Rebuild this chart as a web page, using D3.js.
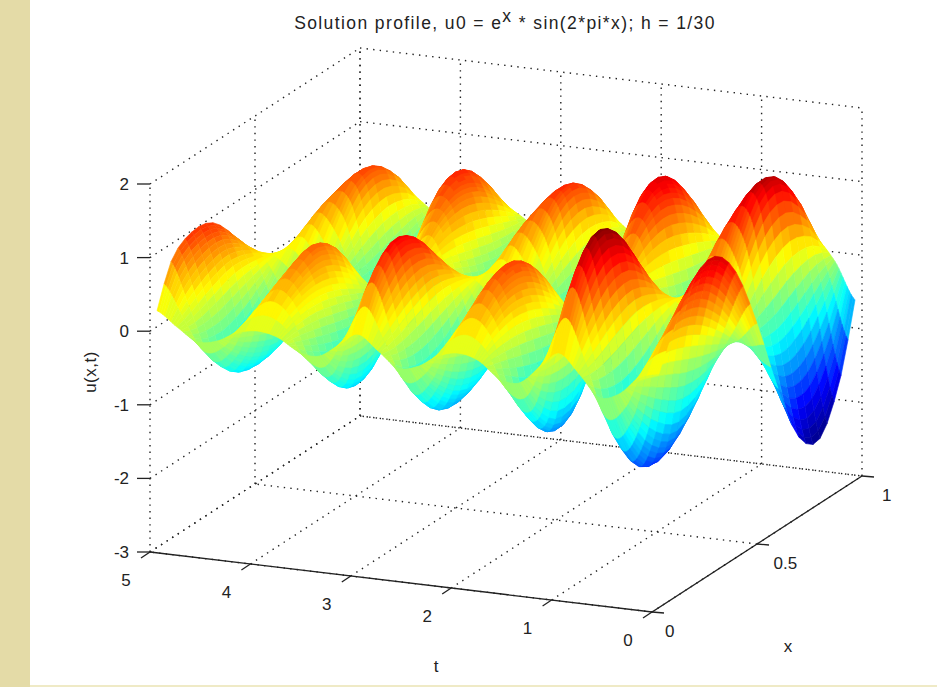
<!DOCTYPE html>
<html>
<head>
<meta charset="utf-8">
<script src="https://d3js.org/d3.v7.min.js"></script>
<style>
  html, body { margin: 0; padding: 0; background: #fff; }
  text { font-family: "Liberation Sans", Arial, sans-serif; font-size: 17px; fill: #222; }
</style>
</head>
<body>
<div id="chart-area"></div>
<script>
const WIDTH = 937
const HEIGHT = 687

const titleParts = ["Solution profile, u0 = e", "x", " * sin(2*pi*x); h = 1/30"]
const tTicks = [0, 1, 2, 3, 4, 5]
const xTicks = [0, 0.5, 1]
const zTicks = [-3, -2, -1, 0, 1, 2]

// values, one row per t, one column per x
const xKnots = [0, 0.1, 0.2, 0.3, 0.4, 0.5, 0.6, 0.7, 0.8, 0.9, 1]
const tKnots = [0, 0.2, 0.4, 0.6, 0.8, 1, 1.2, 1.4, 1.6, 1.8, 2, 2.2, 2.4, 2.6, 2.8, 3, 3.2, 3.4, 3.6, 3.8, 4, 4.2, 4.4, 4.6, 4.8, 5]
const uValues = [
  [0, 0.65, 1.16, 1.28, 0.88, 0, -1.07, -1.92, -2.12, -1.45, -0.2],
  [0, 0.29, 0.41, 0.32, 0.07, -0.27, -0.55, -0.66, -0.50, -0.22, 0],
  [0, -0.62, -1.08, -1.25, -0.95, -0.30, 0.53, 1.17, 1.27, 0.81, 0],
  [0, -0.87, -1.38, -1.28, -0.58, 0.27, 0.84, 1.07, 0.96, 0.56, 0],
  [0, 0.20, 0.43, 0.55, 0.45, 0.20, -0.10, -0.31, -0.37, -0.25, 0],
  [0, 1.06, 1.58, 1.45, 0.83, 0, -0.73, -1.11, -1.05, -0.62, 0],
  [0, 0.20, 0.41, 0.52, 0.42, 0.17, -0.11, -0.31, -0.36, -0.24, 0],
  [0, -0.66, -1.05, -1.00, -0.48, 0.22, 0.77, 1.01, 0.91, 0.54, 0],
  [0, -0.52, -0.90, -0.98, -0.75, -0.22, 0.48, 1.02, 1.09, 0.69, 0],
  [0, 0.22, 0.32, 0.26, 0.08, -0.17, -0.39, -0.48, -0.37, -0.17, 0],
  [0, 0.48, 0.83, 0.89, 0.59, 0, -0.70, -1.24, -1.35, -0.92, 0],
  [0, 0.20, 0.28, 0.22, 0.05, -0.17, -0.37, -0.44, -0.33, -0.15, 0],
  [0, -0.43, -0.75, -0.85, -0.66, -0.22, 0.36, 0.82, 0.89, 0.57, 0],
  [0, -0.62, -0.97, -0.89, -0.39, 0.22, 0.61, 0.75, 0.66, 0.38, 0],
  [0, 0.13, 0.30, 0.41, 0.35, 0.17, -0.03, -0.19, -0.25, -0.18, 0],
  [0, 0.80, 1.17, 1.05, 0.59, 0, -0.48, -0.71, -0.64, -0.36, 0],
  [0, 0.13, 0.31, 0.41, 0.35, 0.17, -0.03, -0.19, -0.25, -0.18, 0],
  [0, -0.52, -0.82, -0.76, -0.34, 0.22, 0.62, 0.77, 0.68, 0.39, 0],
  [0, -0.38, -0.66, -0.74, -0.60, -0.22, 0.36, 0.82, 0.89, 0.57, 0],
  [0, 0.18, 0.25, 0.19, 0.03, -0.17, -0.35, -0.41, -0.31, -0.13, 0],
  [0, 0.38, 0.64, 0.78, 0.56, 0, -0.59, -1.05, -1.17, -0.80, 0],
  [0, 0.17, 0.24, 0.17, 0.02, -0.17, -0.34, -0.39, -0.29, -0.13, 0],
  [0, -0.36, -0.62, -0.72, -0.58, -0.22, 0.31, 0.74, 0.81, 0.52, 0],
  [0, -0.50, -0.79, -0.71, -0.30, 0.22, 0.56, 0.67, 0.58, 0.33, 0],
  [0, 0.11, 0.26, 0.36, 0.31, 0.17, 0, -0.14, -0.20, -0.15, 0],
  [0, 0.76, 0.98, 0.92, 0.55, 0, -0.36, -0.50, -0.43, -0.22, 0]
]

// oblique projection of the axes box, each axis is its own pair of scales
const ORIGIN = { X: 652, Y: 612 }
const tX = d3.scaleLinear().domain([0, 5]).range([0, -502])
const tY = d3.scaleLinear().domain([0, 5]).range([0, -60])
const xX = d3.scaleLinear().domain([0, 1]).range([0, 210])
const xY = d3.scaleLinear().domain([0, 1]).range([0, -136])
const zY = d3.scaleLinear().domain([-3, 2]).range([0, -368])

const project = (t, x, z) => [
  ORIGIN.X + tX(t) + xX(x),
  ORIGIN.Y + tY(t) + xY(x) + zY(z)
]

// catmull-rom between knots so the mesh is as fine as the matlab one
function catmull(values, pos) {
  const n = values.length - 1
  const i = Math.min(Math.floor(pos), n - 1)
  const f = pos - i
  const p0 = values[Math.max(i - 1, 0)], p1 = values[i]
  const p2 = values[i + 1], p3 = values[Math.min(i + 2, n)]
  return 0.5 * (2 * p1 + (p2 - p0) * f +
    (2 * p0 - 5 * p1 + 4 * p2 - p3) * f * f +
    (3 * p1 - p0 - 3 * p2 + p3) * f * f * f)
}

const tPos = d3.scaleLinear().domain(d3.extent(tKnots)).range([0, tKnots.length - 1])
const xPos = d3.scaleLinear().domain(d3.extent(xKnots)).range([0, xKnots.length - 1])
const meshT = d3.range(251).map(i => i / 50)
const meshX = d3.range(1, 30).map(i => i / 30)

const mesh = meshT.map(t => {
  const column = xKnots.map((_, c) => catmull(uValues.map(row => row[c]), tPos(t)))
  return meshX.map(x => catmull(column, xPos(x)))
})

// jet colormap, 64 levels like matlab
const jet = d3.scaleLinear()
  .domain([0, 0.125, 0.375, 0.625, 0.875, 1])
  .range(["#00008f", "#0000ff", "#00ffff", "#ffff00", "#ff0000", "#800000"])
const color = d3.scaleQuantize()
  .domain(d3.extent(mesh.flat()))
  .range(d3.range(64).map(i => jet((i + 0.5) / 64)))

const svg = d3.select("#chart-area").append("svg")
  .attr("width", WIDTH)
  .attr("height", HEIGHT)
  .style("display", "block")

// page background strips
svg.append("rect").attr("x", 0).attr("y", 0).attr("width", 30).attr("height", HEIGHT).attr("fill", "#e4dba7")
svg.append("rect").attr("x", 30).attr("y", 685).attr("width", WIDTH - 30).attr("height", 2).attr("fill", "#efeac6")

const line = d3.line()
const gridLines = []
tTicks.forEach(t => {
  gridLines.push([project(t, 0, -3), project(t, 1, -3)])
  gridLines.push([project(t, 1, -3), project(t, 1, 2)])
})
xTicks.forEach(x => {
  gridLines.push([project(0, x, -3), project(5, x, -3)])
  gridLines.push([project(5, x, -3), project(5, x, 2)])
})
zTicks.forEach(z => {
  gridLines.push([project(5, 0, z), project(5, 1, z)])
  gridLines.push([project(5, 1, z), project(0, 1, z)])
})

svg.append("g").attr("class", "grid")
  .selectAll("path").data(gridLines).join("path")
  .attr("d", line)
  .attr("fill", "none")
  .attr("stroke", "#222")
  .attr("stroke-width", 1.4)
  .attr("stroke-dasharray", "1.4 5.2")

// facets, far corner first so the nearer ones paint over
const facets = []
for (let j = meshT.length - 2; j >= 0; j--) {
  for (let i = meshX.length - 2; i >= 0; i--) {
    facets.push({
      value: mesh[j][i],
      corners: [
        project(meshT[j], meshX[i], mesh[j][i]),
        project(meshT[j], meshX[i + 1], mesh[j][i + 1]),
        project(meshT[j + 1], meshX[i + 1], mesh[j + 1][i + 1]),
        project(meshT[j + 1], meshX[i], mesh[j + 1][i])
      ]
    })
  }
}

svg.append("g").attr("class", "surface")
  .selectAll("path").data(facets).join("path")
  .attr("d", d => line(d.corners) + "Z")
  .attr("fill", d => color(d.value))
  .attr("stroke", d => color(d.value))
  .attr("stroke-width", 0.6)

// the two solid axes
const axes = svg.append("g").attr("class", "axes")
  .attr("stroke", "#222").attr("stroke-width", 1.3).attr("fill", "none")
axes.append("path").attr("d", line([project(5, 0, -3), project(0, 0, -3), project(0, 1, -3)]))

tTicks.forEach(t => {
  const [a, b] = project(t, 0, -3)
  axes.append("path").attr("d", line([[a, b], [a - 9, b + 6]]))
  svg.append("text").attr("x", a - 24).attr("y", b + 34).attr("text-anchor", "middle").text(t)
})
xTicks.forEach(x => {
  const [a, b] = project(0, x, -3)
  axes.append("path").attr("d", line([[a, b], [a + 12, b + 1]]))
  svg.append("text").attr("x", a + 13 + 7 * x).attr("y", b + 25).text(x)
})
zTicks.forEach(z => {
  const [a, b] = project(5, 0, z)
  axes.append("path").attr("d", line([[a, b], [a - 13, b]]))
  svg.append("text").attr("x", a - 21).attr("y", b + 6).attr("text-anchor", "end").text(z)
})

// axis labels
svg.append("text").attr("x", 436).attr("y", 672).attr("text-anchor", "middle").text("t")
svg.append("text").attr("x", 788).attr("y", 652).attr("text-anchor", "middle").text("x")
svg.append("text")
  .attr("transform", "translate(96, 372) rotate(-90)")
  .attr("text-anchor", "middle")
  .style("letter-spacing", "0.5px")
  .text("u(x,t)")

// title with the superscript x
const title = svg.append("text").attr("x", 505).attr("y", 29)
  .attr("text-anchor", "middle")
  .style("font-size", "17.5px")
  .style("letter-spacing", "1.4px")
title.append("tspan").text(titleParts[0])
title.append("tspan").attr("dy", -7).text(titleParts[1])
title.append("tspan").attr("dy", 7).text(titleParts[2])
</script>
</body>
</html>
